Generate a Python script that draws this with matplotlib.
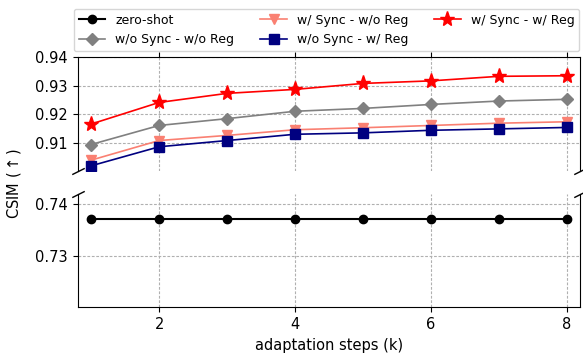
import numpy as np
import matplotlib
matplotlib.use("Agg")
import matplotlib.pyplot as plt

# adaptation steps (k)
steps = [1, 2, 3, 4, 5, 6, 7, 8]

zero_shot = [0.737, 0.737, 0.737, 0.737, 0.737, 0.737, 0.737, 0.737]
nosync_noreg = [0.9093, 0.9160, 0.9184, 0.9210, 0.9220, 0.9234, 0.9246, 0.9252]
sync_noreg = [0.9038, 0.9107, 0.9125, 0.9145, 0.9152, 0.9160, 0.9168, 0.9173]
nosync_reg = [0.9018, 0.9085, 0.9107, 0.9129, 0.9134, 0.9143, 0.9148, 0.9153]
sync_reg = [0.9165, 0.9241, 0.9273, 0.9287, 0.9308, 0.9317, 0.9333, 0.9335]

xticks = [2, 4, 6, 8]
top_yticks = [0.91, 0.92, 0.93, 0.94]
bot_yticks = [0.73, 0.74]

fig, (ax1, ax2) = plt.subplots(2, 1, sharex=True, figsize=(5.83, 3.58), dpi=100)
fig.subplots_adjust(left=0.133, right=0.9957, top=0.840, bottom=0.1416, hspace=0.2)

lw = 1.2
h_zs, = ax2.plot(steps, zero_shot, color='black', marker='o', markersize=6, lw=1.5, label='zero-shot')
h_nn, = ax1.plot(steps, nosync_noreg, color='gray', marker='D', markersize=6, lw=lw,
                 label='w/o Sync - w/o Reg')
h_sn, = ax1.plot(steps, sync_noreg, color='salmon', marker='v', markersize=7, lw=lw,
                 label='w/ Sync - w/o Reg')
h_nr, = ax1.plot(steps, nosync_reg, color='navy', marker='s', markersize=6.5, lw=lw,
                 label='w/o Sync - w/ Reg')
h_sr, = ax1.plot(steps, sync_reg, color='red', marker='*', markersize=11, lw=lw,
                 label='w/ Sync - w/ Reg')

ax1.set_ylim(0.90, 0.94)
ax2.set_ylim(0.72, 0.742)
ax1.set_xlim(0.8, 8.2)
ax1.set_yticks(top_yticks)
ax2.set_yticks(bot_yticks)
ax2.set_xticks(xticks)

ax1.spines['bottom'].set_visible(False)
ax2.spines['top'].set_visible(False)
ax1.xaxis.tick_top()
ax1.tick_params(labeltop=False)
ax2.xaxis.tick_bottom()

for ax in (ax1, ax2):
    ax.grid(True, color='#b0b0b0', linestyle=(0, (2.5, 1.5)), lw=0.8)
    ax.tick_params(labelsize=10.5)

# break marks
d = 0.5
kw = dict(marker=[(-1, -d), (1, d)], markersize=9, linestyle='none',
          color='k', mec='k', mew=1, clip_on=False)
ax1.plot([0, 1], [0, 0], transform=ax1.transAxes, **kw)
ax2.plot([0, 1], [1, 1], transform=ax2.transAxes, **kw)

ax2.set_xlabel('adaptation steps (k)', fontsize=10.5)
fig.text(0.024, 0.488, r'CSIM ($\uparrow$)', rotation=90, ha='center', va='center', fontsize=10.5)

fig.legend(handles=[h_zs, h_nn, h_sn, h_nr, h_sr], loc='upper center',
           bbox_to_anchor=(0.5603, 0.993), ncol=3, fontsize=9,
           handlelength=2.1, columnspacing=2.1)

fig.savefig('out.png', dpi=100)
